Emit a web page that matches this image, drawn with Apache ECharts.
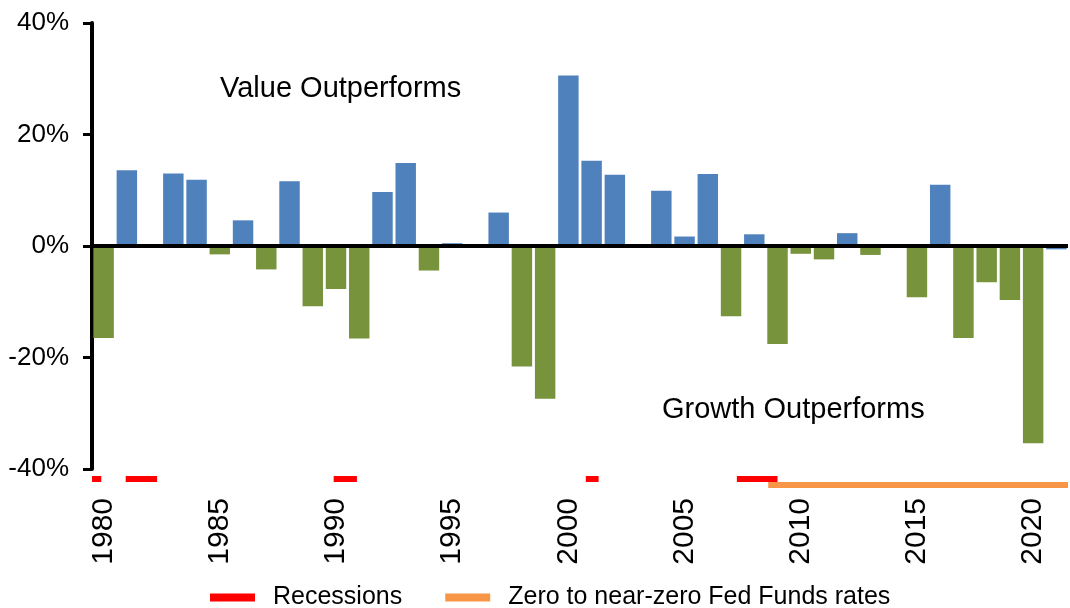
<!DOCTYPE html>
<html>
<head>
<meta charset="utf-8">
<script src="https://cdn.jsdelivr.net/npm/echarts@6/dist/echarts.min.js"></script>
<style>
  html, body { margin: 0; padding: 0; background: #fff; }
  #chart { width: 1070px; height: 608px; }
</style>
</head>
<body>
<div id="chart"></div>
<script>
// Calendar years on the category axis
const years = [
  '1980','1981','1982','1983','1984','1985','1986','1987','1988','1989',
  '1990','1991','1992','1993','1994','1995','1996','1997','1998','1999',
  '2000','2001','2002','2003','2004','2005','2006','2007','2008','2009',
  '2010','2011','2012','2013','2014','2015','2016','2017','2018','2019',
  '2020','2021'
];

// Value return minus growth return for each year, in percent
const spread = [
  -16.5, 13.6, 0.0, 13.0, 11.9, -1.5, 4.6, -4.2, 11.6, -10.8,
  -7.7, -16.6, 9.7, 14.9, -4.4, 0.5, 0.0, 6.0, -21.6, -27.4,
  30.6, 15.3, 12.8, 0.0, 9.9, 1.7, 12.9, -12.6, 2.1, -17.6,
  -1.4, -2.4, 2.3, -1.6, 0.0, -9.2, 11.0, -16.5, -6.5, -9.7,
  -35.4, -0.6
];

// Latest (partial) year keeps the value colour
const partialYear = '2021';

// Recession periods, as fractional years [start, end]
const recessions = [
  [1980.0, 1980.4],
  [1981.45, 1982.8],
  [1990.4, 1991.4],
  [2001.25, 2001.8],
  [2007.75, 2009.5]
];

// Zero to near-zero Fed Funds rate period
const zeroRates = [
  [2009.1, 2022.0]
];

const yTicks = { min: -40, max: 40, step: 20 };

const BLUE = '#4F81BD';
const GREEN = '#77933C';
const RED = '#FF0000';
const ORANGE = '#F79646';
const FONT = '"Liberation Sans", Arial, sans-serif';

const barData = spread.map((v, i) => ({
  value: v,
  itemStyle: { color: (v >= 0 || years[i] === partialYear) ? BLUE : GREEN }
}));

const toSegments = (periods, level) =>
  periods.map(([a, b]) => ({ coords: [[a, level], [b, level]] }));

const chart = echarts.init(document.getElementById('chart'), null, { renderer: 'canvas' });

chart.setOption({
  animation: false,
  backgroundColor: '#ffffff',
  textStyle: { fontFamily: FONT },
  grid: [
    { left: 92, right: 2, top: 23, bottom: 139, containLabel: false },
    { left: 92, right: 2, top: 474, height: 16, containLabel: false }
  ],
  xAxis: [
    {
      type: 'category',
      gridIndex: 0,
      data: years,
      position: 'bottom',
      boundaryGap: true,
      axisLine: { show: false },
      axisTick: { show: false },
      axisLabel: {
        interval: 4,
        rotate: 90,
        margin: 29,
        color: '#000',
        fontSize: 30,
        fontFamily: FONT
      },
      splitLine: { show: false }
    },
    {
      type: 'value',
      gridIndex: 1,
      min: 1980,
      max: 2022,
      show: false
    }
  ],
  yAxis: [
    {
      type: 'value',
      gridIndex: 0,
      min: yTicks.min,
      max: yTicks.max,
      interval: yTicks.step,
      axisLine: { show: true, onZero: false, lineStyle: { color: '#000', width: 4 } },
      axisTick: { show: true, inside: false, length: 9, lineStyle: { color: '#000', width: 3 } },
      axisLabel: {
        formatter: '{value}%',
        margin: 23,
        color: '#000',
        fontSize: 26,
        fontFamily: FONT
      },
      splitLine: { show: false }
    },
    {
      type: 'value',
      gridIndex: 1,
      min: 0,
      max: 16,
      inverse: true,
      show: false
    }
  ],
  legend: {
    left: 205,
    top: 580,
    itemWidth: 43,
    itemHeight: 6,
    itemGap: 43,
    icon: 'rect',
    textStyle: {
      color: '#000',
      fontSize: 25,
      fontFamily: FONT,
      padding: [0, 0, 0, 14]
    },
    data: ['Recessions', 'Zero to near-zero Fed Funds rates']
  },
  series: [
    {
      name: 'Value minus Growth',
      type: 'bar',
      xAxisIndex: 0,
      yAxisIndex: 0,
      data: barData,
      barCategoryGap: '12%',
      markLine: {
        silent: true,
        symbol: ['none', 'none'],
        label: { show: false },
        lineStyle: { color: '#000', width: 4, type: 'solid' },
        data: [{ yAxis: 0 }]
      }
    },
    {
      name: 'Zero to near-zero Fed Funds rates',
      type: 'lines',
      coordinateSystem: 'cartesian2d',
      xAxisIndex: 1,
      yAxisIndex: 1,
      polyline: false,
      silent: true,
      itemStyle: { color: ORANGE },
      lineStyle: { color: ORANGE, width: 6, opacity: 1, cap: 'butt' },
      data: toSegments(zeroRates, 10.5)
    },
    {
      name: 'Recessions',
      type: 'lines',
      coordinateSystem: 'cartesian2d',
      xAxisIndex: 1,
      yAxisIndex: 1,
      polyline: false,
      silent: true,
      itemStyle: { color: RED },
      lineStyle: { color: RED, width: 6, opacity: 1, cap: 'butt' },
      data: toSegments(recessions, 5)
    }
  ],
  graphic: [
    {
      type: 'text',
      left: 220,
      top: 74,
      style: { text: 'Value Outperforms', fill: '#000', font: '29px ' + FONT }
    },
    {
      type: 'text',
      left: 662,
      top: 395,
      style: { text: 'Growth Outperforms', fill: '#000', font: '29px ' + FONT }
    }
  ]
});
</script>
</body>
</html>
